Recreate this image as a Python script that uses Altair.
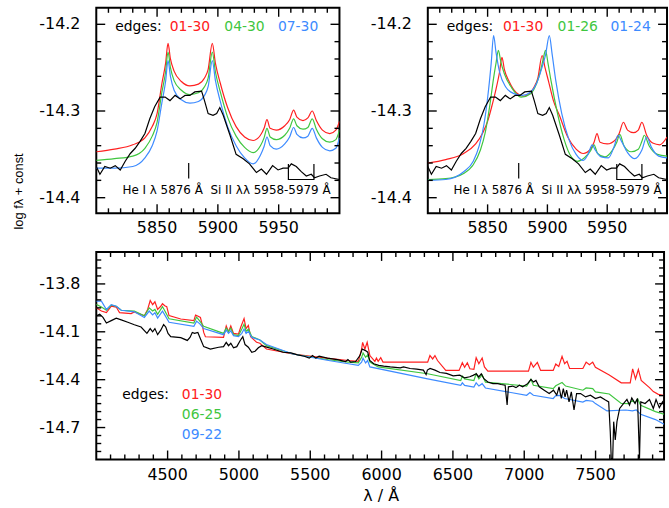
import altair as alt
import pandas as pd

FONT = "DejaVu Sans"
RED = "#ff2020"
GREEN = "#3fc63f"
BLUE = "#3d8bff"
BLACK = "#000000"

# ---------------- axes / ticks ----------------
TOP_X_DOMAIN = [5800, 6000]
TOP_Y_DOMAIN = [-14.418, -14.181]
TOP_X_MAJOR = [5850, 5900, 5950]
TOP_X_LABELS = ["5850", "5900", "5950"]
TOP_X_MINOR = [5810, 5820, 5830, 5840, 5860, 5870, 5880, 5890,
               5910, 5920, 5930, 5940, 5960, 5970, 5980, 5990]
TOP_Y_MAJOR = [-14.4, -14.3, -14.2]
TOP_Y_LABELS = ["-14.4", "-14.3", "-14.2"]
TOP_Y_MINOR = [-14.38, -14.36, -14.34, -14.32, -14.28,
               -14.26, -14.24, -14.22]

BOT_X_DOMAIN = [4000, 7980]
BOT_Y_DOMAIN = [-14.9, -13.6]
BOT_X_MAJOR = [4500, 5000, 5500, 6000, 6500, 7000, 7500]
BOT_X_LABELS = ["4500", "5000", "5500", "6000", "6500", "7000", "7500"]
BOT_X_MINOR = [4100, 4200, 4300, 4400, 4600, 4700, 4800, 4900,
               5100, 5200, 5300, 5400, 5600, 5700, 5800, 5900,
               6100, 6200, 6300, 6400, 6600, 6700, 6800, 6900,
               7100, 7200, 7300, 7400, 7600, 7700, 7800, 7900]
BOT_Y_MAJOR = [-14.7, -14.4, -14.1, -13.8]
BOT_Y_LABELS = ["-14.7", "-14.4", "-14.1", "-13.8"]
BOT_Y_MINOR = [-14.85, -14.80, -14.75, -14.65, -14.60, -14.55,
               -14.50, -14.45, -14.35, -14.30, -14.25, -14.20,
               -14.15, -14.05, -14.00, -13.95, -13.90, -13.85,
               -13.75, -13.70, -13.65]

Y_TITLE = "log f\u03bb + const"
X_TITLE = "\u03bb / \u00c5"

# ---------------- observed spectrum, zoom region ----------------
OBS_WL = [5800, 5803, 5807, 5811.5, 5815.6, 5819.7, 5823.8, 5828, 5832, 5836,
          5840, 5844, 5848, 5852.5, 5856.6, 5860.6, 5864.8, 5868.9, 5873, 5877,
          5881, 5886.6, 5889, 5892, 5896, 5899, 5901.6, 5904.4, 5910, 5915,
          5920.8, 5926, 5931.7, 5935.8, 5940, 5945, 5949.5, 5953.6, 5957.7, 5960.4,
          5964.5, 5968.6, 5972.7, 5976.8, 5979.5, 5983.6, 5989, 5993, 6000]
OBS_FLUX = [-14.364, -14.373, -14.364, -14.366, -14.363, -14.368, -14.358, -14.349, -14.343, -14.335,
            -14.326, -14.309, -14.295, -14.284, -14.284, -14.288, -14.282, -14.286, -14.282, -14.282,
            -14.278, -14.277, -14.288, -14.303, -14.305, -14.303, -14.296, -14.305, -14.328, -14.350,
            -14.355, -14.361, -14.371, -14.367, -14.373, -14.363, -14.368, -14.366, -14.366, -14.361,
            -14.364, -14.370, -14.375, -14.373, -14.377, -14.375, -14.373, -14.377, -14.379]

# ---------------- left zoom panel models ----------------
TL_WL = [5800, 5815, 5830, 5840, 5846, 5850, 5854, 5857, 5859, 5861,
         5864, 5870, 5877, 5884, 5889, 5892, 5895.4, 5898, 5902, 5908,
         5915, 5922, 5929, 5935, 5938, 5940.4, 5943, 5948, 5955, 5959,
         5962.3, 5965, 5970, 5974, 5977.6, 5981, 5986, 5992, 5997, 6000]
TL_RED = [-14.347, -14.344, -14.339, -14.331, -14.318, -14.303, -14.268, -14.245, -14.222, -14.240,
          -14.254, -14.266, -14.271, -14.269, -14.262, -14.252, -14.222, -14.245, -14.268, -14.296,
          -14.318, -14.330, -14.334, -14.328, -14.320, -14.310, -14.320, -14.322, -14.317, -14.310,
          -14.299, -14.307, -14.311, -14.308, -14.300, -14.311, -14.322, -14.326, -14.322, -14.312]
TL_GREEN = [-14.357, -14.355, -14.352, -14.343, -14.329, -14.313, -14.278, -14.255, -14.232, -14.250,
            -14.265, -14.276, -14.281, -14.279, -14.272, -14.262, -14.232, -14.255, -14.278, -14.307,
            -14.329, -14.342, -14.348, -14.340, -14.331, -14.320, -14.330, -14.333, -14.328, -14.320,
            -14.309, -14.317, -14.321, -14.319, -14.309, -14.321, -14.332, -14.336, -14.333, -14.322]
TL_BLUE = [-14.366, -14.366, -14.364, -14.354, -14.340, -14.323, -14.290, -14.266, -14.242, -14.260,
           -14.276, -14.287, -14.291, -14.289, -14.282, -14.272, -14.242, -14.265, -14.289, -14.318,
           -14.340, -14.354, -14.361, -14.351, -14.341, -14.330, -14.340, -14.344, -14.338, -14.330,
           -14.319, -14.327, -14.331, -14.329, -14.320, -14.331, -14.342, -14.346, -14.343, -14.331]

# ---------------- right zoom panel models ----------------
TR_RED_WL = [5800, 5815, 5830, 5840, 5846, 5850, 5854, 5857, 5860, 5862,
             5864, 5868, 5874, 5880, 5885, 5889, 5892, 5895.6, 5898, 5901,
             5905, 5910, 5917, 5924, 5930, 5936, 5939, 5941.5, 5944, 5950,
             5957, 5960, 5963.5, 5967, 5972, 5976, 5979, 5983, 5988, 5994, 6000]
TR_RED = [-14.360, -14.356, -14.349, -14.338, -14.325, -14.312, -14.292, -14.275, -14.255, -14.238,
          -14.252, -14.266, -14.279, -14.283, -14.280, -14.272, -14.262, -14.236, -14.250, -14.266,
          -14.288, -14.305, -14.330, -14.344, -14.349, -14.344, -14.336, -14.326, -14.336, -14.338,
          -14.333, -14.326, -14.313, -14.322, -14.325, -14.322, -14.313, -14.328, -14.337, -14.339, -14.330]
TR_GREEN_WL = [5800, 5815, 5830, 5838, 5844, 5848, 5852, 5855, 5857, 5859,
               5861, 5864, 5870, 5878, 5886, 5891, 5894, 5896.5, 5898.4, 5900.5,
               5903, 5908, 5914, 5920, 5925, 5931, 5936, 5939, 5942, 5948,
               5954, 5958, 5960.5, 5964, 5970, 5976, 5979, 5981, 5985, 5992, 6000]
TR_GREEN = [-14.379, -14.378, -14.372, -14.362, -14.345, -14.325, -14.292, -14.262, -14.245, -14.230,
            -14.243, -14.257, -14.273, -14.284, -14.280, -14.268, -14.255, -14.240, -14.230, -14.245,
            -14.265, -14.300, -14.333, -14.353, -14.358, -14.354, -14.346, -14.339, -14.349, -14.353,
            -14.346, -14.336, -14.327, -14.340, -14.347, -14.344, -14.335, -14.328, -14.340, -14.350, -14.352]
TR_BLUE_WL = [5800, 5815, 5830, 5838, 5843, 5847, 5850, 5853, 5855, 5857,
              5860, 5865, 5872, 5879, 5886, 5891, 5895, 5898.5, 5901.6, 5904,
              5907, 5912, 5918, 5924, 5930, 5934, 5937.4, 5940, 5945, 5951,
              5956, 5959, 5962, 5967, 5973, 5979, 5983, 5987, 5993, 6000]
TR_BLUE = [-14.380, -14.379, -14.370, -14.358, -14.340, -14.315, -14.285, -14.245, -14.213, -14.232,
           -14.255, -14.272, -14.280, -14.282, -14.278, -14.268, -14.252, -14.235, -14.213, -14.235,
           -14.265, -14.303, -14.333, -14.350, -14.357, -14.350, -14.339, -14.345, -14.353, -14.354,
           -14.340, -14.328, -14.335, -14.348, -14.355, -14.345, -14.330, -14.342, -14.352, -14.354]

# ---------------- line identifications ----------------
HEI_WL = [5876]
HEI_TOP = [-14.360]
HEI_BOT = [-14.378]
SIII_WL = [5958, 5958, 5979, 5979]
SIII_F = [-14.361, -14.379, -14.379, -14.361]
SIII_ORDER = [0, 1, 2, 3]
ID_TEXT = "He I \u03bb 5876 \u00c5 \u00a0Si II \u03bb\u03bb 5958-5979 \u00c5"

# ---------------- full spectrum ----------------
B_OBS_WL = [4000, 4024, 4047, 4071, 4105, 4140, 4175, 4221, 4267, 4314,
            4355, 4378, 4395, 4411, 4430, 4452, 4472, 4487, 4503, 4522,
            4592, 4638, 4657, 4673, 4689, 4712, 4730, 4753, 4800, 4858,
            4892, 4911, 4927, 4943, 4962, 4985, 5008, 5027, 5043, 5066,
            5090, 5113, 5136, 5159, 5182, 5240, 5309, 5365, 5411, 5458,
            5493, 5516, 5539, 5562, 5620, 5690, 5748, 5764, 5783, 5818,
            5848, 5864, 5887, 5903, 5917, 5945, 5980, 6015, 6061, 6131,
            6154, 6200, 6246, 6293, 6312, 6321, 6340, 6374, 6409, 6455,
            6502, 6548, 6583, 6618, 6641, 6664, 6681, 6699, 6717, 6745,
            6780, 6815, 6838, 6866, 6880, 6889, 6919, 6942, 6966, 6989,
            7024, 7047, 7065, 7082, 7105, 7140, 7175, 7205, 7228, 7244,
            7260, 7274, 7286, 7297, 7314, 7330, 7349, 7367, 7395, 7430,
            7464, 7499, 7534, 7569, 7592, 7603, 7610, 7620, 7627, 7638,
            7650, 7669, 7697, 7720, 7738, 7754, 7777, 7794, 7808, 7817,
            7847, 7878, 7905, 7924, 7947, 7970, 7980]
B_OBS = [-14.000, -13.990, -14.010, -14.045, -14.030, -14.015, -14.025, -14.040, -14.056, -14.070,
         -14.110, -14.080, -14.100, -14.080, -14.118, -14.090, -14.054, -14.070, -14.110, -14.130,
         -14.137, -14.154, -14.135, -14.104, -14.110, -14.104, -14.143, -14.193, -14.208, -14.197,
         -14.193, -14.166, -14.187, -14.172, -14.200, -14.193, -14.156, -14.131, -14.180, -14.197,
         -14.228, -14.222, -14.200, -14.187, -14.193, -14.208, -14.228, -14.232, -14.245, -14.253,
         -14.265, -14.249, -14.265, -14.253, -14.265, -14.274, -14.286, -14.274, -14.290, -14.286,
         -14.249, -14.208, -14.218, -14.228, -14.280, -14.300, -14.310, -14.315, -14.320, -14.326,
         -14.320, -14.330, -14.334, -14.340, -14.368, -14.340, -14.330, -14.340, -14.355, -14.361,
         -14.376, -14.372, -14.389, -14.382, -14.373, -14.363, -14.383, -14.363, -14.394, -14.415,
         -14.425, -14.425, -14.430, -14.435, -14.559, -14.445, -14.440, -14.450, -14.435, -14.445,
         -14.425, -14.398, -14.415, -14.405, -14.445, -14.466, -14.487, -14.466, -14.497, -14.445,
         -14.518, -14.456, -14.508, -14.466, -14.539, -14.477, -14.590, -14.487, -14.487, -14.508,
         -14.497, -14.518, -14.508, -14.528, -14.539, -14.725, -14.895, -14.895, -14.663, -14.777,
         -14.663, -14.580, -14.549, -14.524, -14.559, -14.515, -14.549, -14.518, -14.895, -14.539,
         -14.549, -14.524, -14.580, -14.524, -14.575, -14.539, -14.556]

B_RED_WL = [4000, 4036, 4071, 4105, 4140, 4163, 4244, 4267, 4337, 4360,
            4378, 4395, 4411, 4430, 4452, 4464, 4480, 4494, 4510, 4592,
            4684, 4696, 4707, 4730, 4742, 4753, 4765, 4892, 4911, 4927,
            4943, 4962, 4997, 5013, 5036, 5050, 5066, 5082, 5124, 5147,
            5193, 5378, 5628, 5767, 5837, 5860, 5867, 5883, 5899, 5918,
            5953, 5964, 5976, 5994, 6010, 6323, 6339, 6358, 6374, 6392,
            6450, 6543, 6566, 6582, 6601, 6619, 6647, 6663, 6682, 6705,
            6721, 6745, 7030, 7047, 7064, 7092, 7115, 7203, 7221, 7242,
            7265, 7283, 7300, 7318, 7411, 7434, 7457, 7480, 7499, 7596,
            7680, 7743, 7760, 7780, 7800, 7820, 7878, 7905, 7940, 7980]
B_RED = [-13.949, -13.970, -13.980, -13.939, -13.945, -13.980, -13.986, -13.975, -14.000, -13.960,
         -13.904, -13.930, -13.912, -13.960, -13.940, -13.924, -13.937, -13.942, -13.998, -14.020,
         -14.030, -13.995, -14.000, -14.010, -14.053, -14.104, -14.131, -14.135, -14.063, -14.100,
         -14.063, -14.110, -14.114, -14.070, -14.017, -14.080, -14.060, -14.130, -14.166, -14.172,
         -14.208, -14.239, -14.266, -14.280, -14.285, -14.208, -14.166, -14.208, -14.166, -14.249,
         -14.285, -14.265, -14.285, -14.262, -14.290, -14.290, -14.249, -14.270, -14.249, -14.280,
         -14.342, -14.342, -14.294, -14.322, -14.294, -14.332, -14.335, -14.262, -14.300, -14.264,
         -14.320, -14.346, -14.346, -14.292, -14.322, -14.292, -14.342, -14.342, -14.302, -14.317,
         -14.254, -14.300, -14.285, -14.330, -14.330, -14.290, -14.307, -14.290, -14.322, -14.370,
         -14.420, -14.420, -14.332, -14.395, -14.336, -14.405, -14.450, -14.475, -14.492, -14.500]

B_GREEN_WL = [4000, 4036, 4071, 4105, 4140, 4175, 4267, 4337, 4371, 4395,
              4411, 4430, 4464, 4480, 4510, 4684, 4703, 4726, 4753, 4892,
              4911, 4927, 4943, 4962, 4997, 5020, 5036, 5050, 5066, 5090,
              5147, 5193, 5378, 5628, 5767, 5837, 5860, 5870, 5888, 5902,
              5918, 5976, 6323, 6555, 6566, 6582, 6647, 6663, 6682, 6705,
              6728, 7017, 7047, 7064, 7203, 7221, 7265, 7290, 7411, 7434,
              7480, 7499, 7596, 7680, 7735, 7759, 7775, 7795, 7816, 7920, 7980]
B_GREEN = [-13.928, -13.945, -13.965, -13.933, -13.940, -13.965, -13.970, -14.000, -13.950, -13.970,
           -13.960, -13.990, -13.942, -13.968, -14.018, -14.045, -14.008, -14.033, -14.066, -14.110,
           -14.077, -14.097, -14.077, -14.118, -14.124, -14.083, -14.052, -14.097, -14.083, -14.130,
           -14.151, -14.187, -14.239, -14.275, -14.290, -14.295, -14.260, -14.233, -14.260, -14.245,
           -14.290, -14.320, -14.363, -14.405, -14.378, -14.395, -14.405, -14.363, -14.395, -14.370,
           -14.415, -14.440, -14.398, -14.435, -14.456, -14.438, -14.418, -14.440, -14.466, -14.452,
           -14.456, -14.477, -14.490, -14.549, -14.550, -14.530, -14.545, -14.520, -14.560, -14.600, -14.617]

B_BLUE_WL = [4000, 4036, 4071, 4105, 4140, 4175, 4267, 4337, 4371, 4395,
             4411, 4430, 4464, 4480, 4510, 4684, 4703, 4726, 4753, 4892,
             4911, 4927, 4943, 4962, 4997, 5020, 5036, 5050, 5066, 5090,
             5147, 5193, 5378, 5628, 5767, 5837, 5860, 5870, 5888, 5902,
             5918, 6323, 6555, 6566, 6582, 6647, 6663, 6682, 6705, 6728,
             7017, 7040, 7064, 7203, 7221, 7250, 7283, 7411, 7434, 7480,
             7499, 7580, 7712, 7758, 7786, 7816, 7920, 7980]
B_BLUE = [-13.908, -13.908, -13.960, -13.930, -13.940, -13.965, -13.975, -14.010, -13.970, -13.994,
          -13.980, -14.014, -13.970, -13.994, -14.040, -14.066, -14.033, -14.050, -14.080, -14.118,
          -14.090, -14.110, -14.094, -14.124, -14.130, -14.110, -14.083, -14.110, -14.097, -14.135,
          -14.151, -14.180, -14.239, -14.280, -14.300, -14.310, -14.290, -14.266, -14.295, -14.280,
          -14.320, -14.395, -14.436, -14.420, -14.436, -14.446, -14.420, -14.440, -14.425, -14.452,
          -14.498, -14.480, -14.498, -14.518, -14.500, -14.498, -14.518, -14.540, -14.530, -14.535,
          -14.550, -14.596, -14.590, -14.596, -14.590, -14.617, -14.650, -14.680]

# ---------------- legend texts ----------------
TL_LEG_TEXT = ["edges:", "01-30", "04-30", "07-30"]
TL_LEG_WL = [5815.5, 5860.4, 5905.3, 5949.4]
TR_LEG_TEXT = ["edges:", "01-30", "01-26", "01-24"]
TR_LEG_WL = [5815.8, 5862.8, 5908.5, 5952.7]
TOP_LEG_F = -14.2035
LEG_COLORS = [BLACK, RED, GREEN, BLUE]

B_LEG_TEXT = ["edges:", "01-30", "06-25", "09-22"]
B_LEG_WL = [4182, 4600, 4600, 4600]
B_LEG_F = [-14.497, -14.497, -14.619, -14.745]

MAJOR_LEN = 9
MINOR_LEN = 5


def tick_layers(xs, ys, xvals, yvals, length, w, h):
    out = []
    dfx = pd.DataFrame({"wl": xvals})
    dfy = pd.DataFrame({"f": yvals})
    style = dict(color="black", strokeWidth=1.4)
    out.append(alt.Chart(dfx).mark_rule(**style).encode(
        x=alt.X("wl:Q", scale=xs, axis=None), y=alt.value(h), y2=alt.value(h - length)))
    out.append(alt.Chart(dfx).mark_rule(**style).encode(
        x=alt.X("wl:Q", scale=xs, axis=None), y=alt.value(0), y2=alt.value(length)))
    out.append(alt.Chart(dfy).mark_rule(**style).encode(
        y=alt.Y("f:Q", scale=ys, axis=None), x=alt.value(0), x2=alt.value(length)))
    out.append(alt.Chart(dfy).mark_rule(**style).encode(
        y=alt.Y("f:Q", scale=ys, axis=None), x=alt.value(w), x2=alt.value(w - length)))
    return out


def label_layers(xs, ys, xvals, xlabels, yvals, ylabels, h, xgap):
    dfx = pd.DataFrame({"wl": xvals, "t": xlabels})
    dfy = pd.DataFrame({"f": yvals, "t": ylabels})
    xl = alt.Chart(dfx).mark_text(font=FONT, fontSize=16, color="black", align="center",
                                  baseline="top").encode(
        x=alt.X("wl:Q", scale=xs, axis=None), y=alt.value(h + xgap), text="t:N")
    yl = alt.Chart(dfy).mark_text(font=FONT, fontSize=16, color="black", align="right",
                                  baseline="middle").encode(
        y=alt.Y("f:Q", scale=ys, axis=None), x=alt.value(-16), text="t:N")
    return [xl, yl]


def panel(lines, extras, xdom, ydom, xmaj, xlab, xmin, ymaj, ylab, ymin, xgap, w, h):
    xs = alt.Scale(domain=xdom, nice=False, zero=False)
    ys = alt.Scale(domain=ydom, nice=False, zero=False)
    layers = []
    for wl, fl, color, interp in lines:
        df = pd.DataFrame({"wl": wl, "f": fl})
        layers.append(
            alt.Chart(df).mark_line(color=color, strokeWidth=1.2, clip=True,
                                    interpolate=interp).encode(
                x=alt.X("wl:Q", scale=xs, axis=None),
                y=alt.Y("f:Q", scale=ys, axis=None),
            )
        )
    for ex in extras:
        layers.append(ex(xs, ys))
    layers += tick_layers(xs, ys, xmaj, ymaj, MAJOR_LEN, w, h)
    layers += tick_layers(xs, ys, xmin, ymin, MINOR_LEN, w, h)
    layers += label_layers(xs, ys, xmaj, xlab, ymaj, ylab, h, xgap)
    return alt.layer(*layers).properties(width=w, height=h)


def legend_layer(texts, wls, fs, colors, size):
    def make(xs, ys):
        df = pd.DataFrame({"t": texts, "wl": wls, "f": fs, "c": colors})
        return alt.Chart(df).mark_text(align="left", baseline="middle", font=FONT,
                                       fontSize=size).encode(
            x=alt.X("wl:Q", scale=xs, axis=None),
            y=alt.Y("f:Q", scale=ys, axis=None),
            text="t:N",
            color=alt.Color("c:N", scale=None),
        )
    return make


def id_layers():
    def tick(xs, ys):
        df = pd.DataFrame({"wl": HEI_WL, "f": HEI_TOP, "b": HEI_BOT})
        return alt.Chart(df).mark_rule(color="black", strokeWidth=1.2).encode(
            x=alt.X("wl:Q", scale=xs, axis=None),
            y=alt.Y("f:Q", scale=ys, axis=None), y2="b:Q")

    def bracket(xs, ys):
        df = pd.DataFrame({"wl": SIII_WL, "f": SIII_F, "o": SIII_ORDER})
        return alt.Chart(df).mark_line(color="black", strokeWidth=1.2).encode(
            x=alt.X("wl:Q", scale=xs, axis=None),
            y=alt.Y("f:Q", scale=ys, axis=None), order="o:Q")

    def label(xs, ys):
        df = pd.DataFrame({"t": [ID_TEXT], "wl": [5821.5], "f": [-14.391]})
        return alt.Chart(df).mark_text(align="left", baseline="middle", font=FONT,
                                       fontSize=12, color="black").encode(
            x=alt.X("wl:Q", scale=xs, axis=None),
            y=alt.Y("f:Q", scale=ys, axis=None), text="t:N")
    return [tick, bracket, label]


def y_title(xs, ys):
    df = pd.DataFrame({"t": [Y_TITLE]})
    return alt.Chart(df).mark_text(font="Liberation Sans", fontSize=13, color="black",
                                   angle=270, align="center", baseline="middle").encode(
        x=alt.value(-78), y=alt.value(185), text="t:N")


def x_title(xs, ys):
    df = pd.DataFrame({"t": [X_TITLE]})
    return alt.Chart(df).mark_text(font=FONT, fontSize=16, color="black",
                                   align="center", baseline="middle").encode(
        x=alt.value(287), y=alt.value(246), text="t:N")


top_left = panel(
    [(TL_WL, TL_RED, RED, "monotone"), (TL_WL, TL_GREEN, GREEN, "monotone"),
     (TL_WL, TL_BLUE, BLUE, "monotone"), (OBS_WL, OBS_FLUX, BLACK, "linear")],
    id_layers() + [legend_layer(TL_LEG_TEXT, TL_LEG_WL, [TOP_LEG_F] * 4, LEG_COLORS, 14),
                   y_title],
    TOP_X_DOMAIN, TOP_Y_DOMAIN, TOP_X_MAJOR, TOP_X_LABELS, TOP_X_MINOR,
    TOP_Y_MAJOR, TOP_Y_LABELS, TOP_Y_MINOR, 7, 245, 207)

top_right = panel(
    [(TR_RED_WL, TR_RED, RED, "monotone"), (TR_GREEN_WL, TR_GREEN, GREEN, "monotone"),
     (TR_BLUE_WL, TR_BLUE, BLUE, "monotone"), (OBS_WL, OBS_FLUX, BLACK, "linear")],
    id_layers() + [legend_layer(TR_LEG_TEXT, TR_LEG_WL, [TOP_LEG_F] * 4, LEG_COLORS, 14)],
    TOP_X_DOMAIN, TOP_Y_DOMAIN, TOP_X_MAJOR, TOP_X_LABELS, TOP_X_MINOR,
    TOP_Y_MAJOR, TOP_Y_LABELS, TOP_Y_MINOR, 7, 241, 207)

bottom = panel(
    [(B_RED_WL, B_RED, RED, "linear"), (B_GREEN_WL, B_GREEN, GREEN, "linear"),
     (B_BLUE_WL, B_BLUE, BLUE, "linear"), (B_OBS_WL, B_OBS, BLACK, "linear")],
    [legend_layer(B_LEG_TEXT, B_LEG_WL, B_LEG_F, LEG_COLORS, 14), x_title],
    BOT_X_DOMAIN, BOT_Y_DOMAIN, BOT_X_MAJOR, BOT_X_LABELS, BOT_X_MINOR,
    BOT_Y_MAJOR, BOT_Y_LABELS, BOT_Y_MINOR, 8, 572, 209)

top = alt.hconcat(top_left, top_right, spacing=28)
chart = alt.vconcat(top, bottom, spacing=13).properties(
    padding={"left": 12, "top": 4, "right": 0, "bottom": 0},
    background="white",
).configure_view(stroke="black", strokeWidth=2)

chart.save("out.html", embed_options={"renderer": "svg", "actions": False})
